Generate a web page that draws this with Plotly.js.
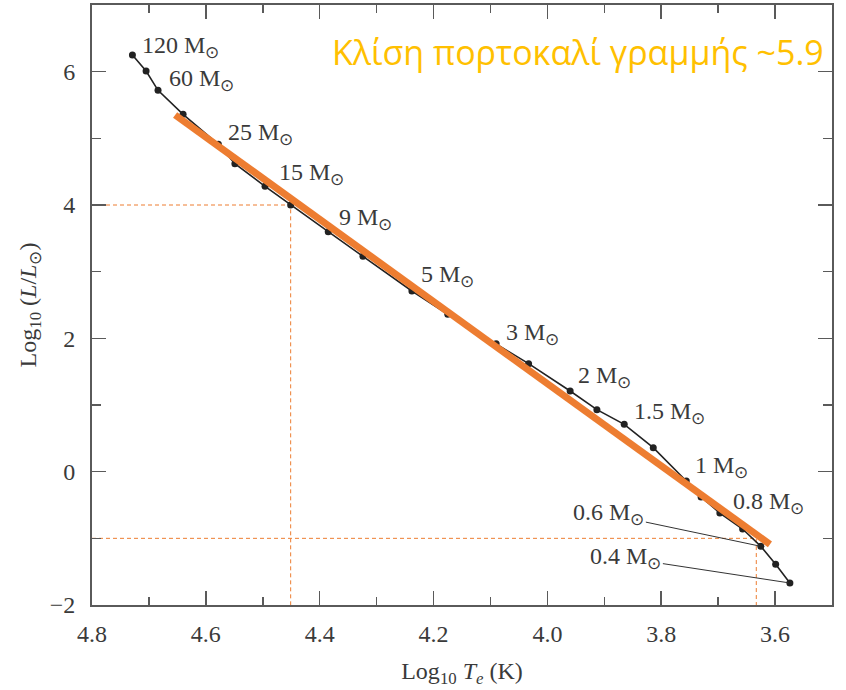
<!DOCTYPE html>
<html>
<head>
<meta charset="utf-8">
<script src="https://cdn.plot.ly/plotly-3.0.1.min.js"></script>
<style>html,body{margin:0;padding:0;background:#fff;}#chart{width:846px;height:690px;}</style>
</head>
<body>
<div id="chart"></div>
<script>
// Main-sequence track
const logTe = [4.729, 4.705, 4.684, 4.640, 4.578, 4.549, 4.496, 4.451, 4.385, 4.324, 4.238, 4.175, 4.090, 4.033, 3.960, 3.913, 3.865, 3.814, 3.756, 3.730, 3.697, 3.657, 3.625, 3.599, 3.574];
const logL  = [6.25, 6.01, 5.72, 5.36, 4.91, 4.62, 4.28, 4.00, 3.60, 3.23, 2.71, 2.36, 1.92, 1.62, 1.21, 0.93, 0.71, 0.36, -0.14, -0.38, -0.62, -0.86, -1.12, -1.39, -1.67];

// Mass labels: index of labelled point, text
const massIdx    = [0, 2, 4, 7, 9, 10, 12, 14, 16, 18, 20];
const massText   = ["120", "60", "25", "15", "9", "5", "3", "2", "1.5", "1", "0.8"];
const leaderIdx  = [22, 24];
const leaderText = ["0.6", "0.4"];

// Orange fit line endpoints
const fitX = [4.654, 3.609];
const fitY = [5.35, -1.09];

// Dashed guide lines: (logTe, logL) reading points
const guideX = [4.451, 3.633];
const guideY = [4.0, -1.0];

const serif = "'Liberation Serif', 'Times New Roman', serif";
const txtCol = "#3a3a3a";
const orange = "#ED7D31";

// label pixel offsets (dx, dy) from the labelled point
const labelOffsets = [[8,-8],[9,-10],[8,-10],[-14,-31],[-26,-37],[7,-15],[8,-10],[6,-14],[8,-11],[7,-14],[11,-10]];
const leaderOffsets = [[-152,-32],[-164,-25]];

const traces = [];
// dashed guides
for (let i = 0; i < guideX.length; i++) {
  traces.push({x:[4.8, guideX[i], guideX[i]], y:[guideY[i], guideY[i], -2], mode:"lines",
    line:{color:orange, width:1, dash:"4px,3px"}, hoverinfo:"skip", showlegend:false});
}
traces.push({x:logTe, y:logL, mode:"lines+markers", line:{color:"#222", width:1.6},
  marker:{color:"#222", size:7}, showlegend:false});
traces.push({x:fitX, y:fitY, mode:"lines", line:{color:orange, width:7}, showlegend:false});

const annotations = [];
massIdx.forEach((k, i) => {
  annotations.push({x:logTe[k], y:logL[k], xref:"x", yref:"y", text:massText[i] + " M<sub>⊙</sub>",
    showarrow:false, xanchor:"left", yanchor:"middle", xshift:labelOffsets[i][0], yshift:-labelOffsets[i][1],
    font:{family:serif, size:24, color:txtCol}});
});
leaderIdx.forEach((k, i) => {
  annotations.push({x:logTe[k], y:logL[k], xref:"x", yref:"y", text:leaderText[i] + " M<sub>⊙</sub>",
    showarrow:true, arrowhead:0, arrowwidth:1, arrowcolor:"#333", ax:leaderOffsets[i][0], ay:leaderOffsets[i][1],
    standoff:2, font:{family:serif, size:24, color:txtCol}});
});
annotations.push({x:0.992, y:0.922, xref:"paper", yref:"paper", xanchor:"right", yanchor:"middle",
  text:"Κλίση πορτοκαλί γραμμής ~5.9", showarrow:false, font:{family:"'Open Sans', sans-serif", size:34, color:"#FFC000"}});

const axBase = {showgrid:false, zeroline:false, showline:true, linecolor:"#5a5a5a", linewidth:2, mirror:"ticks",
  ticks:"inside", tickcolor:"#5a5a5a", tickwidth:1.5, ticklen:14,
  tickfont:{family:serif, size:24, color:txtCol}};

const layout = {
  width:846, height:690, margin:{l:92, r:14, t:5, b:85},
  font:{family:serif, size:24, color:txtCol},
  paper_bgcolor:"#fff", plot_bgcolor:"#fff",
  xaxis:Object.assign({}, axBase, {range:[4.8, 3.5], dtick:0.2, tick0:3.6, tickformat:".1f",
    minor:{ticks:"inside", dtick:0.1, tick0:3.6, ticklen:8, tickcolor:"#5a5a5a", tickwidth:1.5},
    ticklabelstandoff:6,
    title:{text:"Log<sub>10</sub> <i>T<sub>e</sub></i> (K)", font:{family:serif, size:24, color:txtCol}, standoff:16}}),
  yaxis:Object.assign({}, axBase, {range:[-2, 7], dtick:2, tick0:0,
    minor:{ticks:"inside", dtick:1, tick0:0, ticklen:9, tickcolor:"#5a5a5a", tickwidth:1.5},
    ticklabelstandoff:10,
    title:{text:"Log<sub>10</sub> (<i>L</i>/<i>L</i><sub>⊙</sub>)", font:{family:serif, size:24, color:txtCol}, standoff:6}}),
  annotations:annotations
};

Plotly.newPlot("chart", traces, layout, {staticPlot:true, displayModeBar:false});
</script>
</body>
</html>
